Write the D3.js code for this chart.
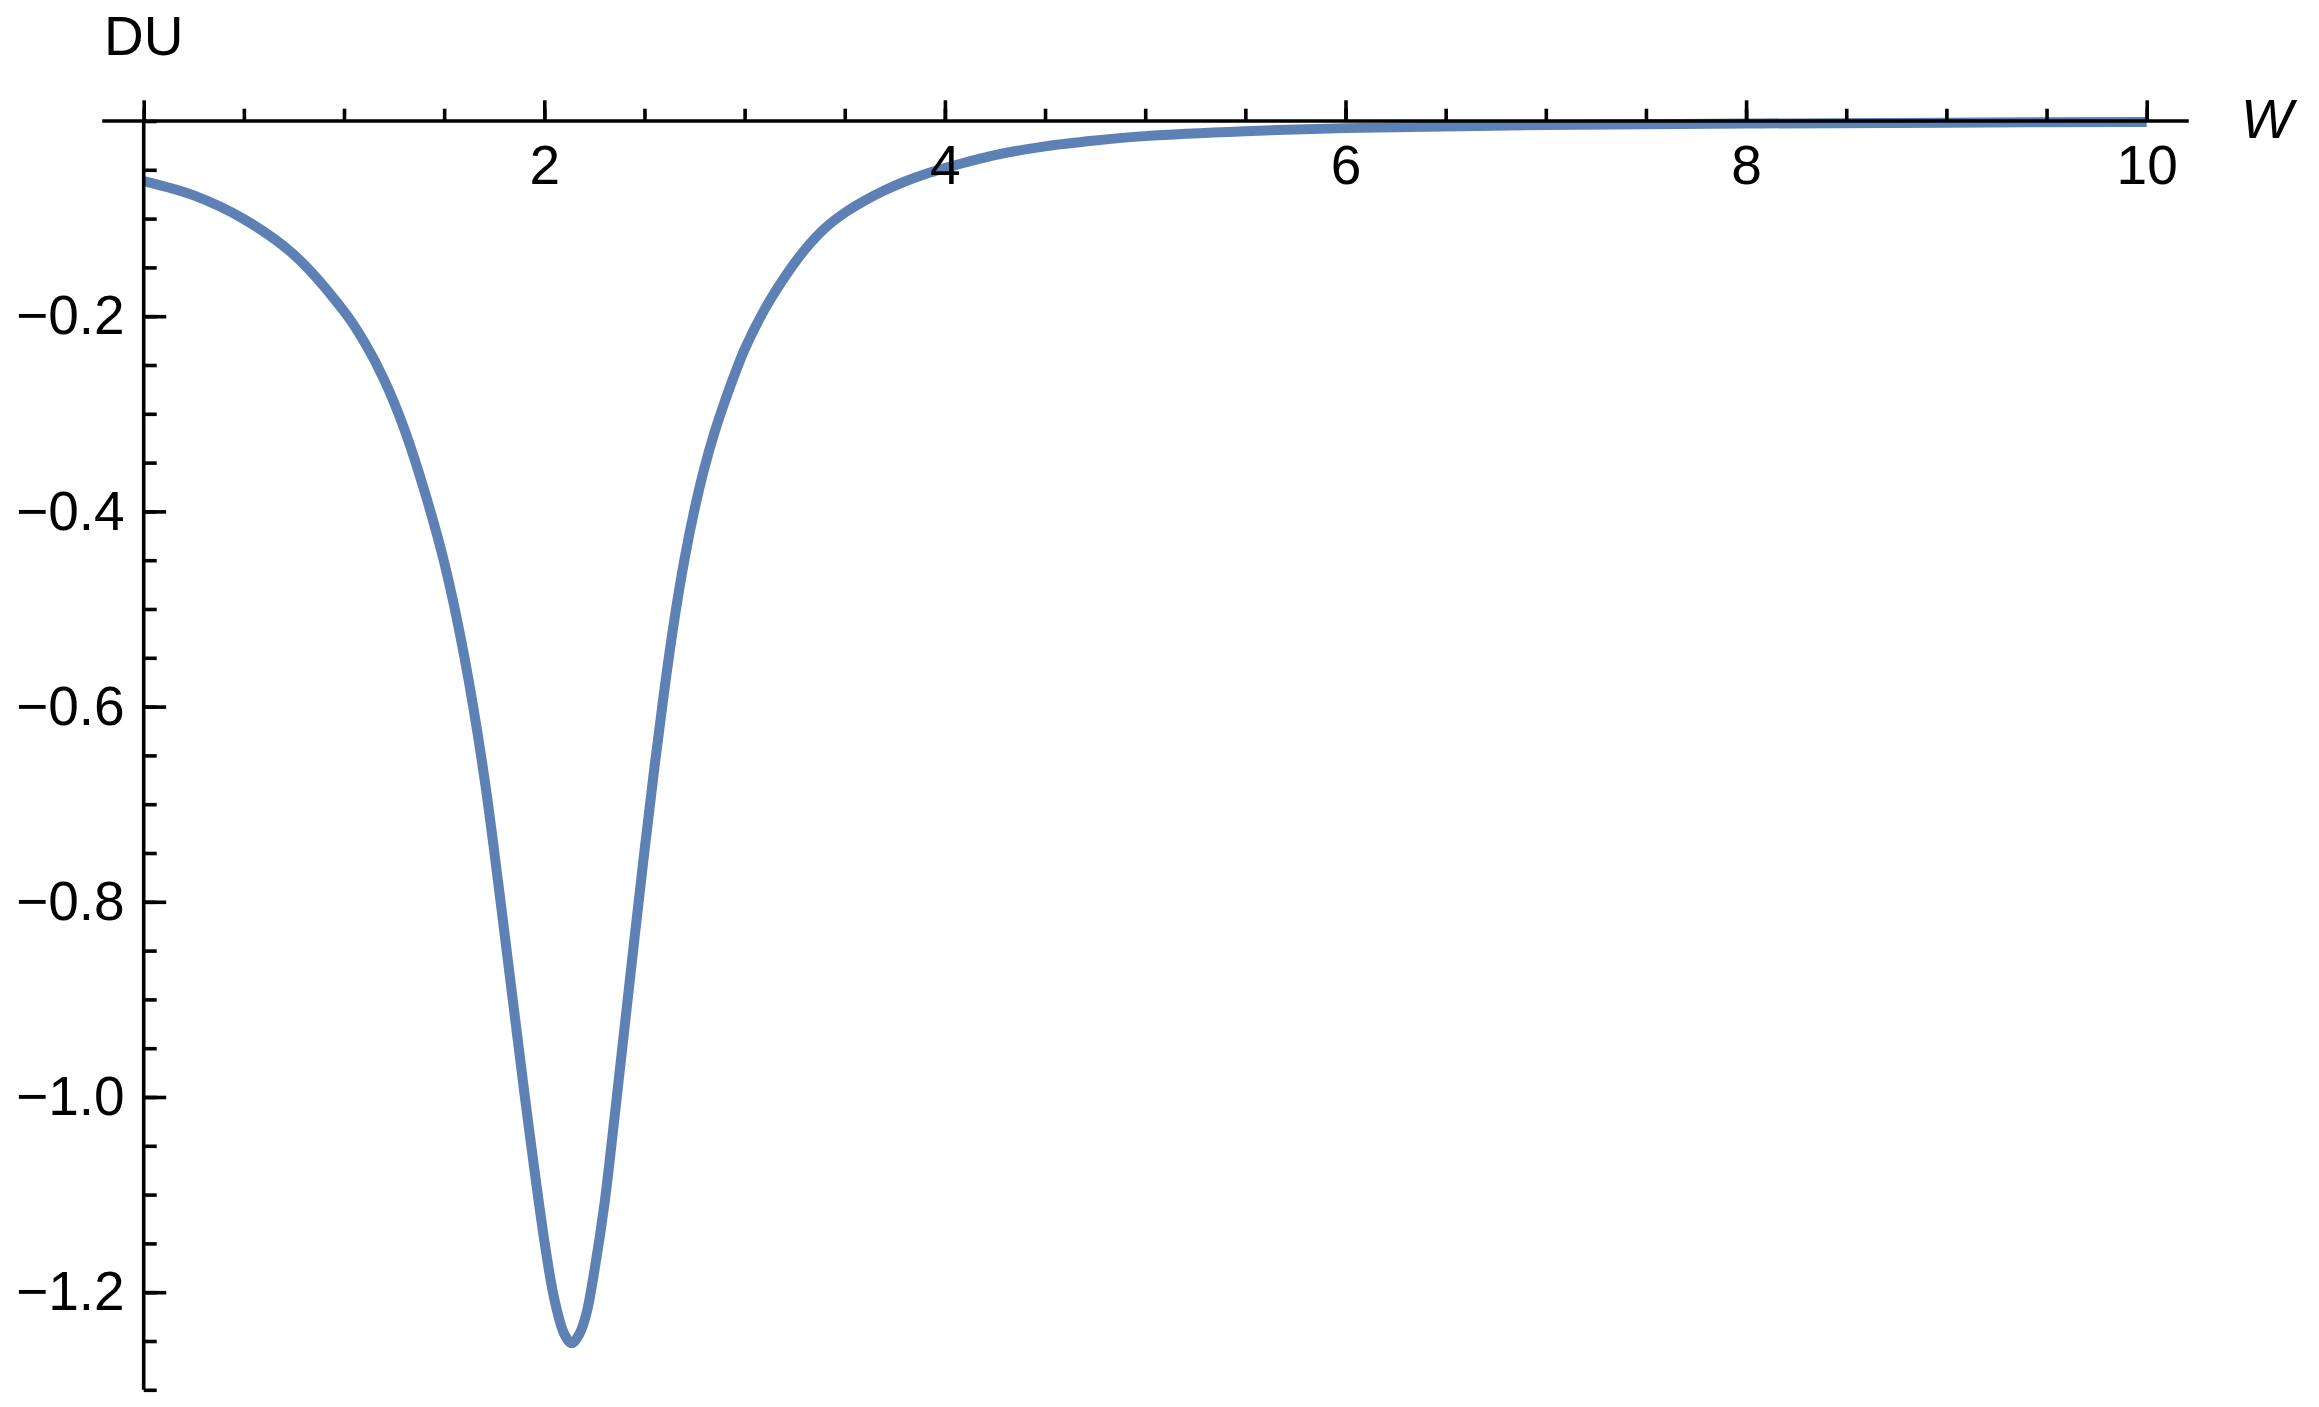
<!DOCTYPE html>
<html>
<head>
<meta charset="utf-8">
<script src="https://cdn.jsdelivr.net/npm/d3@7"></script>
<style>
  body { margin: 0; background: #fff; }
  text { font-family: "Liberation Sans", Arial, sans-serif; font-size: 55px; fill: #000; }
</style>
</head>
<body>
<svg id="chart"></svg>
<script>
// values
var W = [0, 0.25, 0.5, 0.75, 1.0, 1.1, 1.2, 1.3, 1.4, 1.5, 1.6, 1.7, 1.8, 1.9, 2.0, 2.05,
         2.1, 2.137, 2.175, 2.21, 2.25, 2.3, 2.35, 2.4, 2.45, 2.5, 2.55, 2.6, 2.65, 2.7,
         2.75, 2.8, 2.85, 2.9, 3.0, 3.1, 3.2, 3.3, 3.4, 3.5, 3.6, 3.7, 3.8, 3.9, 4.0,
         4.25, 4.5, 4.75, 5.0, 5.5, 6.0, 7.0, 8.0, 9.0, 10.0];
var DU = [-0.0615, -0.0762, -0.1005, -0.137, -0.195, -0.226, -0.265, -0.315, -0.378, -0.452,
          -0.548, -0.672, -0.83, -0.995, -1.147, -1.207, -1.243, -1.2524, -1.2428, -1.222,
          -1.178, -1.11, -1.022, -0.93, -0.838, -0.748, -0.662, -0.582, -0.51, -0.449,
          -0.398, -0.355, -0.319, -0.288, -0.234, -0.193, -0.16, -0.132, -0.11, -0.094,
          -0.0815, -0.071, -0.062, -0.0545, -0.0483, -0.035, -0.026, -0.02, -0.0155, -0.0105,
          -0.0073, -0.0042, -0.0026, -0.0017, -0.001];

// ticks and labels
var xMajorTicks = [0, 2, 4, 6, 8, 10];
var yMajorTicks = [-0.2, -0.4, -0.6, -0.8, -1.0, -1.2];
var xTitle = "W";
var yTitle = "DU";

var width = 2319, height = 1407;

var svg = d3.select("#chart")
    .attr("width", width)
    .attr("height", height);

// set the ranges
var x = d3.scaleLinear().domain([0, 10]).range([143.7, 2146.7]);
var y = d3.scaleLinear().domain([0, -1.3]).range([121, 1389.8]);

var data = W.map(function(d, i) { return {w: d, du: DU[i]}; });

// define the line
var valueline = d3.line()
    .curve(d3.curveCatmullRom.alpha(0.5))
    .x(function(d) { return x(d.w); })
    .y(function(d) { return y(d.du); });

svg.append("path")
    .datum(data)
    .attr("fill", "none")
    .attr("stroke", "#5e81b5")
    .attr("stroke-width", 10)
    .attr("d", valueline);

var axisStroke = 3.6;

// x axis line runs a bit past the data on both ends
svg.append("line")
    .attr("x1", x(-0.207)).attr("x2", x(10.21))
    .attr("y1", y(0)).attr("y2", y(0))
    .attr("stroke", "#000").attr("stroke-width", axisStroke);

// y axis line
svg.append("line")
    .attr("x1", x(0)).attr("x2", x(0))
    .attr("y1", y(0)).attr("y2", y(-1.3))
    .attr("stroke", "#000").attr("stroke-width", axisStroke);

// x ticks (pointing up), labels below
var gxMinor = svg.append("g")
    .attr("transform", "translate(0," + y(0) + ")")
    .call(d3.axisTop(x).tickValues(x.ticks(20)).tickSize(12.3).tickFormat(""));
var gxMajor = svg.append("g")
    .attr("transform", "translate(0," + y(0) + ")")
    .call(d3.axisTop(x).tickValues(xMajorTicks).tickSize(20.7)
      .tickFormat(function(d) { return d === 0 ? "" : d; }));
gxMajor.selectAll("text").attr("y", 63).attr("dy", 0);

// y ticks (pointing right), labels on the left
var gyMinor = svg.append("g")
    .attr("transform", "translate(" + x(0) + ",0)")
    .call(d3.axisRight(y).tickValues(y.ticks(26)).tickSize(13).tickFormat(""));
var gyMajor = svg.append("g")
    .attr("transform", "translate(" + x(0) + ",0)")
    .call(d3.axisRight(y).tickValues(yMajorTicks).tickSize(22.5).tickFormat(d3.format(".1f")));
gyMajor.selectAll("text").attr("x", -19).attr("text-anchor", "end");

[gxMinor, gxMajor, gyMinor, gyMajor].forEach(function(g) {
  g.select(".domain").remove();
  g.selectAll("line").attr("stroke-width", axisStroke);
});

// axis titles
svg.append("text")
    .attr("x", 104).attr("y", 55)
    .text(yTitle);
svg.append("text")
    .attr("x", 2241).attr("y", 138)
    .style("font-style", "italic")
    .text(xTitle);
</script>
</body>
</html>
